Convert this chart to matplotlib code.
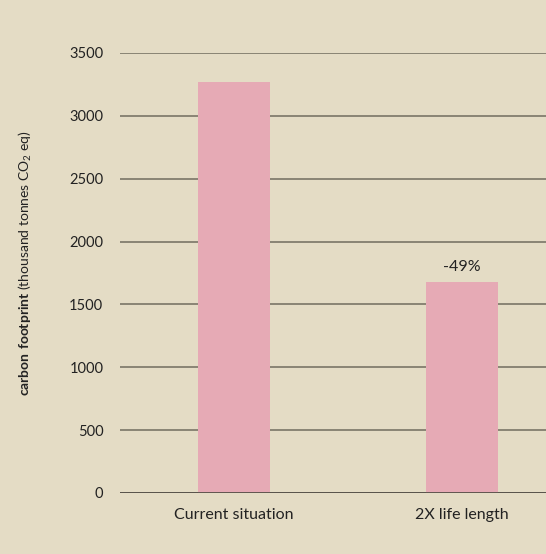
import matplotlib
matplotlib.use("Agg")
import matplotlib.pyplot as plt

categories = ["Current situation", "2X life length"]
values = [3270, 1680]
annotations = ["", "-49%"]
yticks = [0, 500, 1000, 1500, 2000, 2500, 3000, 3500]

plt.rcParams['font.family'] = ['Lato', 'DejaVu Sans']
plt.rcParams['mathtext.fontset'] = 'custom'
plt.rcParams['mathtext.rm'] = 'Lato'
plt.rcParams['mathtext.bf'] = 'Lato:bold'

bg = '#e4dcc5'
fig = plt.figure(figsize=(5.46, 5.54), dpi=100, facecolor=bg)
ax = fig.add_axes([120/546, 1-493/554, 426/546, 440/554])
ax.set_facecolor(bg)

x = list(range(len(categories)))
ax.bar(x, values, width=0.316, color='#e6aab5', zorder=3)
for i, (v, a) in enumerate(zip(values, annotations)):
    if a:
        ax.text(i, v + 65, a, ha='center', va='bottom', fontsize=11.5, color='#222222')

ax.set_xlim(-0.5, 1.37)
ax.set_ylim(0, 3500)
ax.set_yticks(yticks)
ax.set_yticklabels([str(t) for t in yticks], fontsize=10.5, color='#222222')
ax.yaxis.grid(True, color='#7a7567', linewidth=1.2, zorder=1)
ax.set_xticks(x)
ax.set_xticklabels(categories, fontsize=11.5, color='#222222')
ax.tick_params(axis='both', length=0)
ax.tick_params(axis='y', pad=12)
ax.tick_params(axis='x', pad=11)
for s in ax.spines.values():
    s.set_visible(False)
ax.axhline(0, color='#555048', linewidth=1.3, zorder=4)

fig.text(25/546, 1-263/554, r"$\bf{carbon\ footprint}$ (thousand tonnes CO$_2$ eq)",
         rotation=90, ha='center', va='center', fontsize=10, color='#222222')

fig.savefig('out.png', dpi=100, facecolor=bg)
